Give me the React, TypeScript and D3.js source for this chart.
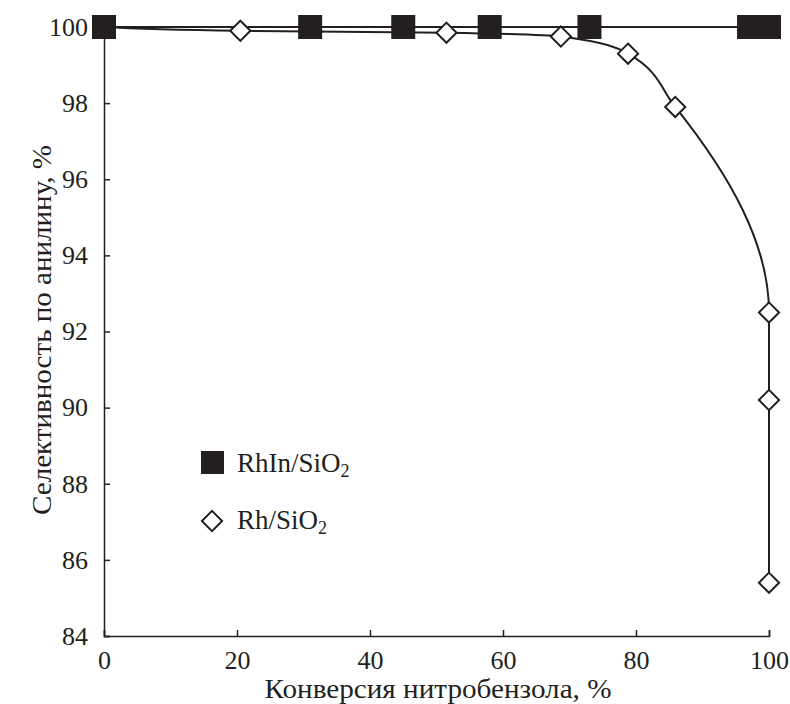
import React, { useEffect, useRef } from 'react';
import * as d3 from 'd3';

// RhIn/SiO2 — selectivity stays at 100 %
const rhInConversion = [0, 31, 45, 58, 73, 97, 100];
const rhInSelectivity = [100, 100, 100, 100, 100, 100, 100];

// Rh/SiO2
const rhConversion = [0, 20.5, 51.5, 68.7, 78.8, 85.9, 100, 100, 100];
const rhSelectivity = [100, 99.9, 99.85, 99.75, 99.3, 97.9, 92.5, 90.2, 85.4];
const rhMarkerFrom = 1; // first point sits under the RhIn square

const xTicks = [0, 20, 40, 60, 80, 100];
const yTicks = [84, 86, 88, 90, 92, 94, 96, 98, 100];

const xTitle = 'Конверсия нитробензола, %';
const yTitle = 'Селективность по анилину, %';

const ink = '#231f20';
const font = '"Liberation Serif", "Times New Roman", serif';

export default function App() {
  const svgRef = useRef<SVGSVGElement>(null);

  useEffect(() => {
    const svg = d3.select(svgRef.current);
    svg.selectAll('*').remove();

    const width = 790;
    const height = 704;
    const left = 104, right = 769, top = 27, bottom = 636;

    const x = d3.scaleLinear().domain([0, 100]).range([left, right]);
    const y = d3.scaleLinear().domain([84, 100]).range([bottom, top]);

    svg.attr('width', width).attr('height', height);

    // axes, ticks point inward
    const xAxis = svg.append('g')
      .attr('transform', `translate(0,${bottom})`)
      .call(d3.axisBottom(x).tickValues(xTicks).tickSize(-6).tickPadding(15).tickFormat(d3.format('d')));
    const yAxis = svg.append('g')
      .attr('transform', `translate(${left},0)`)
      .call(d3.axisLeft(y).tickValues(yTicks).tickSize(-6).tickPadding(16).tickFormat(d3.format('d')));

    [xAxis, yAxis].forEach(a => {
      a.attr('font-family', null).attr('font-size', null);
      a.select('.domain').attr('stroke', ink).attr('stroke-width', 1.5);
      a.selectAll('.tick line').attr('stroke', ink).attr('stroke-width', 1.5);
      a.selectAll('.tick text')
        .attr('fill', ink)
        .style('font-family', font)
        .style('font-size', '26px');
    });
    yAxis.selectAll('.tick line').filter(d => d === 100).remove();

    // lines
    const rhInLine = d3.line<number>()
      .x((_, i) => x(rhInConversion[i]))
      .y((d) => y(d));
    svg.append('path')
      .attr('d', rhInLine(rhInSelectivity))
      .attr('fill', 'none')
      .attr('stroke', ink)
      .attr('stroke-width', 1.8);

    const rhLine = d3.line<number>()
      .x((_, i) => x(rhConversion[i]))
      .y((d) => y(d))
      .curve(d3.curveMonotoneY);
    svg.append('path')
      .attr('d', rhLine(rhSelectivity))
      .attr('fill', 'none')
      .attr('stroke', ink)
      .attr('stroke-width', 2);

    // markers
    const sq = 24;
    svg.append('g')
      .selectAll('rect')
      .data(rhInSelectivity)
      .join('rect')
      .attr('x', (_, i) => x(rhInConversion[i]) - sq / 2)
      .attr('y', d => y(d) - sq / 2)
      .attr('width', sq)
      .attr('height', sq)
      .attr('fill', ink);

    const diamond = d3.symbol().type(d3.symbolDiamond2).size(260);
    svg.append('g')
      .selectAll('path')
      .data(rhSelectivity.slice(rhMarkerFrom))
      .join('path')
      .attr('d', diamond)
      .attr('transform', (d, i) => `translate(${x(rhConversion[i + rhMarkerFrom])},${y(d)})`)
      .attr('fill', 'white')
      .attr('stroke', ink)
      .attr('stroke-width', 2);

    // legend
    const lg = svg.append('g').style('font-family', font).style('font-size', '27px').attr('fill', ink);
    lg.append('rect').attr('x', 201).attr('y', 451).attr('width', 23).attr('height', 23).attr('fill', ink);
    const t1 = lg.append('text').attr('x', 237).attr('y', 472);
    t1.append('tspan').text('RhIn/SiO');
    t1.append('tspan').text('2').attr('dy', 5).style('font-size', '18px');
    lg.append('path')
      .attr('d', diamond)
      .attr('transform', 'translate(212,521)')
      .attr('fill', 'white')
      .attr('stroke', ink)
      .attr('stroke-width', 2);
    const t2 = lg.append('text').attr('x', 237).attr('y', 529);
    t2.append('tspan').text('Rh/SiO');
    t2.append('tspan').text('2').attr('dy', 5).style('font-size', '18px');

    // titles
    svg.append('text')
      .attr('x', 438)
      .attr('y', 698)
      .attr('text-anchor', 'middle')
      .attr('textLength', 347)
      .attr('lengthAdjust', 'spacingAndGlyphs')
      .attr('fill', ink)
      .style('font-family', font)
      .style('font-size', '27px')
      .text(xTitle);
    svg.append('text')
      .attr('transform', `translate(51,330) rotate(-90)`)
      .attr('text-anchor', 'middle')
      .attr('textLength', 370)
      .attr('lengthAdjust', 'spacingAndGlyphs')
      .attr('fill', ink)
      .style('font-family', font)
      .style('font-size', '27px')
      .text(yTitle);
  }, []);

  return <svg ref={svgRef} style={{ position: 'absolute', left: 0, top: 0 }} />;
}
